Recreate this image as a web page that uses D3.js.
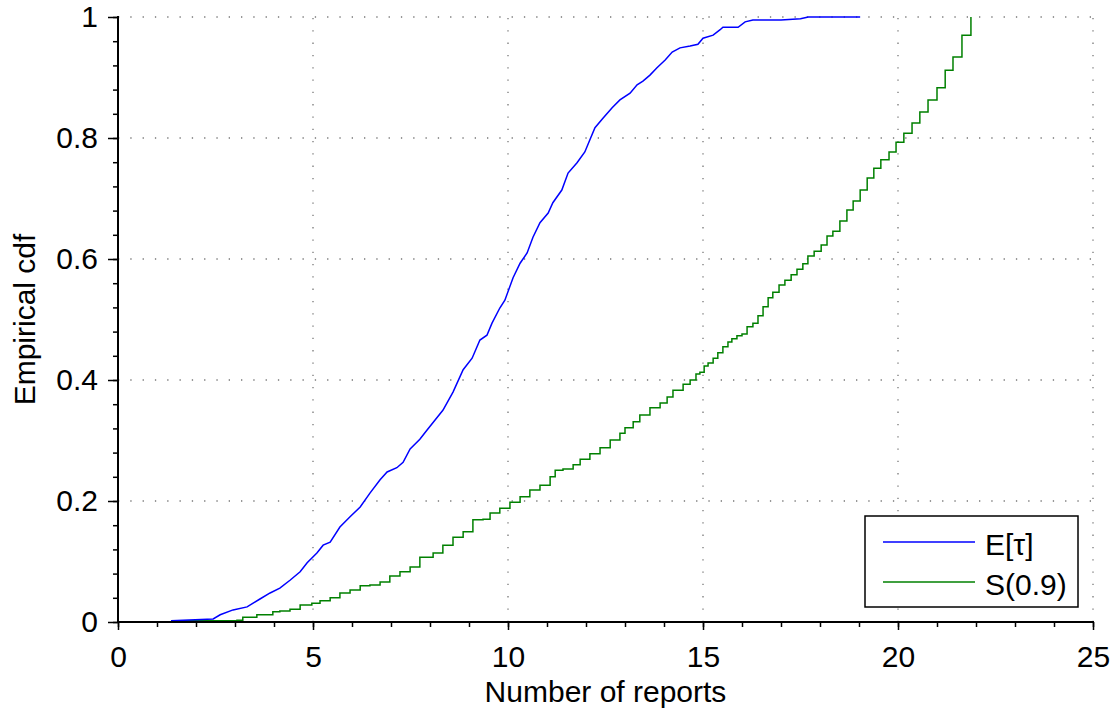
<!DOCTYPE html>
<html>
<head>
<meta charset="utf-8">
<script src="https://cdn.jsdelivr.net/npm/d3@7"></script>
<style>
  body { margin: 0; background: #fff; }
  text { font-family: "Liberation Sans", Arial, Helvetica, sans-serif; }
</style>
</head>
<body>
<div id="chart"></div>
<script>
// E[tau] empirical cdf: [reports, cdf]
const blueData = [
  [1.38, 0], [1.38, 0.002], [2.44, 0.005], [2.62, 0.012], [2.95, 0.020], [3.31, 0.025],
  [3.64, 0.038], [3.90, 0.048], [4.15, 0.056], [4.41, 0.069], [4.67, 0.083], [4.85, 0.098],
  [5.10, 0.114], [5.26, 0.127], [5.44, 0.132], [5.69, 0.157], [5.95, 0.174], [6.21, 0.190],
  [6.46, 0.213], [6.72, 0.235], [6.90, 0.248], [7.15, 0.255], [7.31, 0.264], [7.49, 0.286],
  [7.74, 0.302], [7.92, 0.317], [8.13, 0.334], [8.33, 0.350], [8.59, 0.380], [8.85, 0.417],
  [9.08, 0.436], [9.28, 0.466], [9.46, 0.474], [9.59, 0.494], [9.79, 0.519], [9.92, 0.532],
  [10.13, 0.569], [10.31, 0.593], [10.49, 0.610], [10.64, 0.636], [10.82, 0.660], [11.03, 0.676],
  [11.15, 0.693], [11.38, 0.714], [11.54, 0.742], [11.77, 0.759], [11.97, 0.777], [12.10, 0.797],
  [12.23, 0.817], [12.44, 0.833], [12.67, 0.850], [12.87, 0.863], [13.13, 0.874], [13.31, 0.888],
  [13.46, 0.894], [13.64, 0.904], [13.82, 0.916], [14.03, 0.929], [14.21, 0.942], [14.41, 0.949],
  [14.67, 0.952], [14.87, 0.955], [15.00, 0.965], [15.26, 0.970], [15.44, 0.979], [15.51, 0.983],
  [15.90, 0.983], [16.08, 0.992], [16.28, 0.995], [17.00, 0.995], [17.50, 0.997], [17.70, 1.0],
  [19.03, 1.0]
];

// S(0.9) empirical cdf (step after): [reports, cdf]
const greenData = [
  [1.38, 0], [1.38, 0.002], [3.05, 0.003], [3.20, 0.008], [3.56, 0.012], [3.97, 0.017],
  [4.15, 0.018], [4.41, 0.021], [4.67, 0.028], [4.97, 0.031], [5.18, 0.035], [5.44, 0.040],
  [5.69, 0.048], [5.95, 0.053], [6.21, 0.060], [6.46, 0.061], [6.72, 0.066], [6.97, 0.076],
  [7.23, 0.083], [7.49, 0.091], [7.74, 0.107], [8.08, 0.114], [8.33, 0.127], [8.59, 0.140],
  [8.85, 0.149], [9.10, 0.169], [9.36, 0.170], [9.54, 0.180], [9.79, 0.188], [10.05, 0.198],
  [10.31, 0.207], [10.56, 0.218], [10.82, 0.226], [11.08, 0.240], [11.21, 0.251], [11.41, 0.253],
  [11.67, 0.260], [11.85, 0.269], [12.10, 0.278], [12.36, 0.288], [12.62, 0.301], [12.87, 0.312],
  [13.00, 0.321], [13.21, 0.331], [13.38, 0.342], [13.64, 0.354], [13.90, 0.362], [14.08, 0.372],
  [14.23, 0.383], [14.49, 0.393], [14.67, 0.400], [14.82, 0.410], [14.92, 0.413], [15.03, 0.423],
  [15.13, 0.428], [15.26, 0.436], [15.38, 0.445], [15.51, 0.455], [15.64, 0.463], [15.74, 0.468],
  [15.87, 0.473], [16.00, 0.476], [16.13, 0.488], [16.28, 0.494], [16.41, 0.506], [16.54, 0.521],
  [16.67, 0.536], [16.79, 0.545], [16.95, 0.557], [17.10, 0.565], [17.26, 0.574], [17.41, 0.583],
  [17.56, 0.592], [17.69, 0.605], [17.85, 0.613], [18.03, 0.623], [18.18, 0.638], [18.33, 0.646],
  [18.51, 0.663], [18.69, 0.681], [18.85, 0.696], [19.03, 0.714], [19.21, 0.734], [19.38, 0.750],
  [19.56, 0.764], [19.77, 0.777], [19.95, 0.793], [20.15, 0.808], [20.36, 0.825], [20.56, 0.843],
  [20.77, 0.863], [21.00, 0.883], [21.21, 0.912], [21.41, 0.934], [21.64, 0.970], [21.87, 1.0]
];

const xTicks = [0, 5, 10, 15, 20, 25];
const yTicks = [0, 0.2, 0.4, 0.6, 0.8, 1];
const seriesNames = ["E[\u03c4]", "S(0.9)"];
const seriesColors = ["#0000ff", "#008000"];

const width = 1116;
const height = 710;
const fontSize = "30px";
const svg = d3.select("#chart")
  .append("svg")
  .attr("width", width)
  .attr("height", height);

// Scales
const x = d3.scaleLinear().domain([0, 25]).range([118, 1093]);
const y = d3.scaleLinear().domain([0, 1]).range([622, 17]);

// Dotted grid at the major ticks
const grid = svg.append("g")
  .attr("stroke", "#777")
  .attr("stroke-width", 1.3)
  .attr("stroke-dasharray", "1.3,11");
xTicks.filter(d => d > 0).forEach(d => {
  grid.append("line")
    .attr("x1", x(d)).attr("x2", x(d))
    .attr("y1", y(0)).attr("y2", y(1));
});
yTicks.filter(d => d > 0).forEach(d => {
  grid.append("line")
    .attr("x1", x(0)).attr("x2", x(25))
    .attr("y1", y(d)).attr("y2", y(d));
});

// Curves
const blueLine = d3.line()
  .x(d => x(d[0]))
  .y(d => y(d[1]));
const greenLine = d3.line()
  .curve(d3.curveStepAfter)
  .x(d => x(d[0]))
  .y(d => y(d[1]));

svg.append("path")
  .datum(greenData)
  .attr("d", greenLine)
  .attr("fill", "none")
  .attr("stroke", seriesColors[1])
  .attr("stroke-width", 1.5);
svg.append("path")
  .datum(blueData)
  .attr("d", blueLine)
  .attr("fill", "none")
  .attr("stroke", seriesColors[0])
  .attr("stroke-width", 1.5);

// Axes: minor ticks first, then major with labels
function styleAxis(g) {
  g.select(".domain").remove();
  g.selectAll(".tick line").attr("stroke", "#000").attr("stroke-width", 1.5);
  g.selectAll(".tick text").style("font-size", fontSize).attr("fill", "#000");
}

svg.append("g")
  .attr("transform", `translate(0, ${y(0)})`)
  .call(d3.axisBottom(x).tickValues(d3.range(0, 26, 1)).tickSize(5).tickFormat(""))
  .call(styleAxis);
svg.append("g")
  .attr("transform", `translate(0, ${y(0)})`)
  .call(d3.axisBottom(x).tickValues(xTicks).tickSize(8).tickPadding(16).tickFormat(d3.format("d")))
  .call(styleAxis);

svg.append("g")
  .attr("transform", `translate(${x(0)}, 0)`)
  .call(d3.axisLeft(y).tickValues(d3.range(0, 1.001, 0.04)).tickSize(5).tickFormat(""))
  .call(styleAxis);
svg.append("g")
  .attr("transform", `translate(${x(0)}, 0)`)
  .call(d3.axisLeft(y).tickValues(yTicks).tickSize(10).tickPadding(10).tickFormat(d => d === 0 || d === 1 ? d3.format("d")(d) : d3.format(".1f")(d)))
  .call(styleAxis);

// Axis lines
svg.append("line")
  .attr("x1", x(0) - 1).attr("x2", x(25) + 1)
  .attr("y1", y(0)).attr("y2", y(0))
  .attr("stroke", "#000").attr("stroke-width", 2);
svg.append("line")
  .attr("x1", x(0)).attr("x2", x(0))
  .attr("y1", y(0) + 1).attr("y2", y(1) - 1)
  .attr("stroke", "#000").attr("stroke-width", 2);

// Axis labels
svg.append("text")
  .attr("x", x(12.5))
  .attr("y", 702)
  .attr("text-anchor", "middle")
  .style("font-size", fontSize)
  .text("Number of reports");
svg.append("text")
  .attr("transform", "rotate(-90)")
  .attr("x", -y(0.5))
  .attr("y", 35)
  .attr("text-anchor", "middle")
  .style("font-size", fontSize)
  .text("Empirical cdf");

// Legend
const legend = svg.append("g").attr("class", "legend");
legend.append("rect")
  .attr("x", 865).attr("y", 516)
  .attr("width", 213).attr("height", 91)
  .attr("fill", "#fff")
  .attr("stroke", "#000")
  .attr("stroke-width", 1.5);
seriesNames.forEach((name, i) => {
  const ly = 542 + i * 40;
  legend.append("line")
    .attr("x1", 883).attr("x2", 975)
    .attr("y1", ly).attr("y2", ly)
    .attr("stroke", seriesColors[i])
    .attr("stroke-width", 1.5);
  legend.append("text")
    .attr("x", 985)
    .attr("y", ly + 13)
    .style("font-size", fontSize)
    .text(name);
});
</script>
</body>
</html>
